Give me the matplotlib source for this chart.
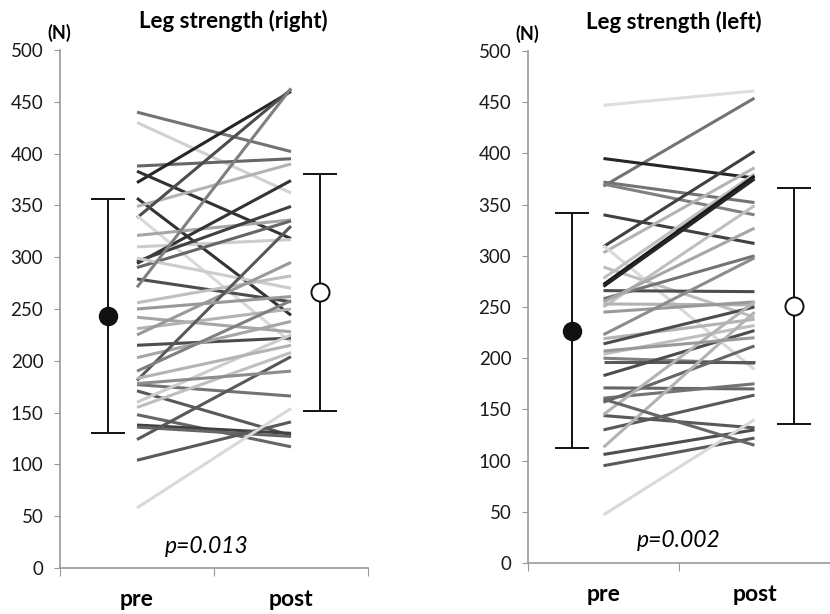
import matplotlib.pyplot as plt

# Leg strength (right), individual pre -> post values (N)
right_pre = [440, 430, 388, 372, 383, 357, 349, 338, 340, 321, 310, 294, 296, 290, 299, 279,
             271, 256, 242, 231, 225, 215, 203, 181, 177, 171, 160, 155, 148, 138, 136, 124,
             104, 58, 178, 190, 250, 183]
right_post = [402, 362, 395, 460, 318, 244, 390, 462, 218, 336, 317, 374, 349, 335, 270, 257,
              463, 282, 228, 250, 295, 222, 238, 330, 166, 128, 225, 208, 117, 130, 127, 204,
              141, 154, 190, 258, 262, 215]
right_shade = [0.45, 0.82, 0.4, 0.15, 0.2, 0.2, 0.7, 0.3, 0.85, 0.65, 0.8, 0.2, 0.25, 0.4, 0.8, 0.3,
               0.5, 0.75, 0.65, 0.7, 0.6, 0.3, 0.65, 0.35, 0.45, 0.35, 0.8, 0.75, 0.4, 0.25, 0.4, 0.35,
               0.35, 0.85, 0.55, 0.5, 0.6, 0.7]

# Leg strength (left)
left_pre = [447, 368, 395, 372, 370, 340, 309, 303, 310, 289, 278, 272, 270, 266, 258, 250,
            255, 253, 245, 219, 214, 204, 200, 196, 183, 171, 161, 157, 144, 145, 130, 113,
            106, 95, 47, 160, 223, 207]
left_post = [461, 454, 376, 352, 340, 312, 402, 386, 189, 240, 380, 378, 375, 265, 300, 349,
             327, 252, 255, 238, 250, 232, 195, 196, 227, 170, 175, 212, 132, 255, 164, 245,
             130, 122, 140, 115, 298, 220]
left_shade = [0.87, 0.45, 0.15, 0.45, 0.5, 0.25, 0.25, 0.7, 0.85, 0.75, 0.75, 0.1, 0.15, 0.3, 0.45, 0.75,
              0.65, 0.7, 0.6, 0.7, 0.3, 0.75, 0.5, 0.35, 0.3, 0.4, 0.45, 0.4, 0.35, 0.7, 0.35, 0.7,
              0.3, 0.35, 0.85, 0.4, 0.55, 0.6]

# group mean and SD (pre, post)
right_mean = [243, 266]
right_sd = [113, 114]
left_mean = [227, 251]
left_sd = [115, 115]

titles = ["Leg strength (right)", "Leg strength (left)"]
p_texts = ["p=0.013", "p=0.002"]

plt.rcParams['font.family'] = ['Lato', 'DejaVu Sans']

W, H = 830, 614
fig = plt.figure(figsize=(W / 100, H / 100), dpi=100)


def panel(rect, pre, post, shades, mean, sd, title, ptxt, xmax, ebx, title_x, p_xy):
    ax = fig.add_axes(rect)
    for a, b, s in zip(pre, post, shades):
        ax.plot([0.5, 1.5], [a, b], color=str(s), lw=2.2, solid_capstyle='butt', zorder=2)
    # pre: filled, post: open
    ax.errorbar(ebx[0], mean[0], yerr=sd[0], fmt='o', color='#111111', ms=13, mfc='#111111',
                capsize=12, elinewidth=1.4, capthick=1.4, zorder=3)
    ax.errorbar(ebx[1], mean[1], yerr=sd[1], fmt='o', color='#111111', ms=13, mfc='white',
                mew=1.4, capsize=12, elinewidth=1.4, capthick=1.4, zorder=3)
    ax.set_xlim(0, xmax)
    ax.set_ylim(0, 500)
    ax.set_yticks(range(0, 501, 50))
    ax.tick_params(axis='y', labelsize=13.5, length=4, color='#999999', pad=8,
                   labelcolor='#1a1a1a')
    ax.set_xticks([0, 1, 2])
    ax.set_xticklabels([])
    ax.set_xticks([0.5, 1.5], minor=True)
    ax.set_xticklabels(['pre', 'post'], minor=True, fontsize=16.5, fontweight='bold')
    ax.tick_params(axis='x', which='major', length=6, color='#999999')
    ax.tick_params(axis='x', which='minor', length=0, pad=15)
    for side in ['top', 'right']:
        ax.spines[side].set_visible(False)
    for side in ['left', 'bottom']:
        ax.spines[side].set_color('#999999')
        ax.spines[side].set_linewidth(1.2)
    ax.text(title_x, 1.035, title, transform=ax.transAxes, fontsize=16, fontweight='bold',
            ha='center', va='bottom')
    ax.text(-0.005, 508, '(N)', fontsize=13, fontweight='bold', ha='center', va='bottom')
    ax.text(p_xy[0], p_xy[1], ptxt, fontsize=16.5, fontstyle='italic', ha='center', va='center')
    return ax


# pixel geometry of the two plot areas
def rect(x0, x1, y_top, y_bot):
    return [x0 / W, 1 - y_bot / H, (x1 - x0) / W, (y_bot - y_top) / H]


panel(rect(60, 368, 50, 568), right_pre, right_post, right_shade, right_mean, right_sd,
      titles[0], p_texts[0], 2.0, [0.31, 1.69], (233 - 60) / 308, (0.95, 21))
panel(rect(528, 830, 51, 563), left_pre, left_post, left_shade, left_mean, left_sd,
      titles[1], p_texts[1], 302 / 156, [0.29, 1.76], (674 - 528) / 302, (1.0, 22))

fig.savefig('out.png', dpi=100)
